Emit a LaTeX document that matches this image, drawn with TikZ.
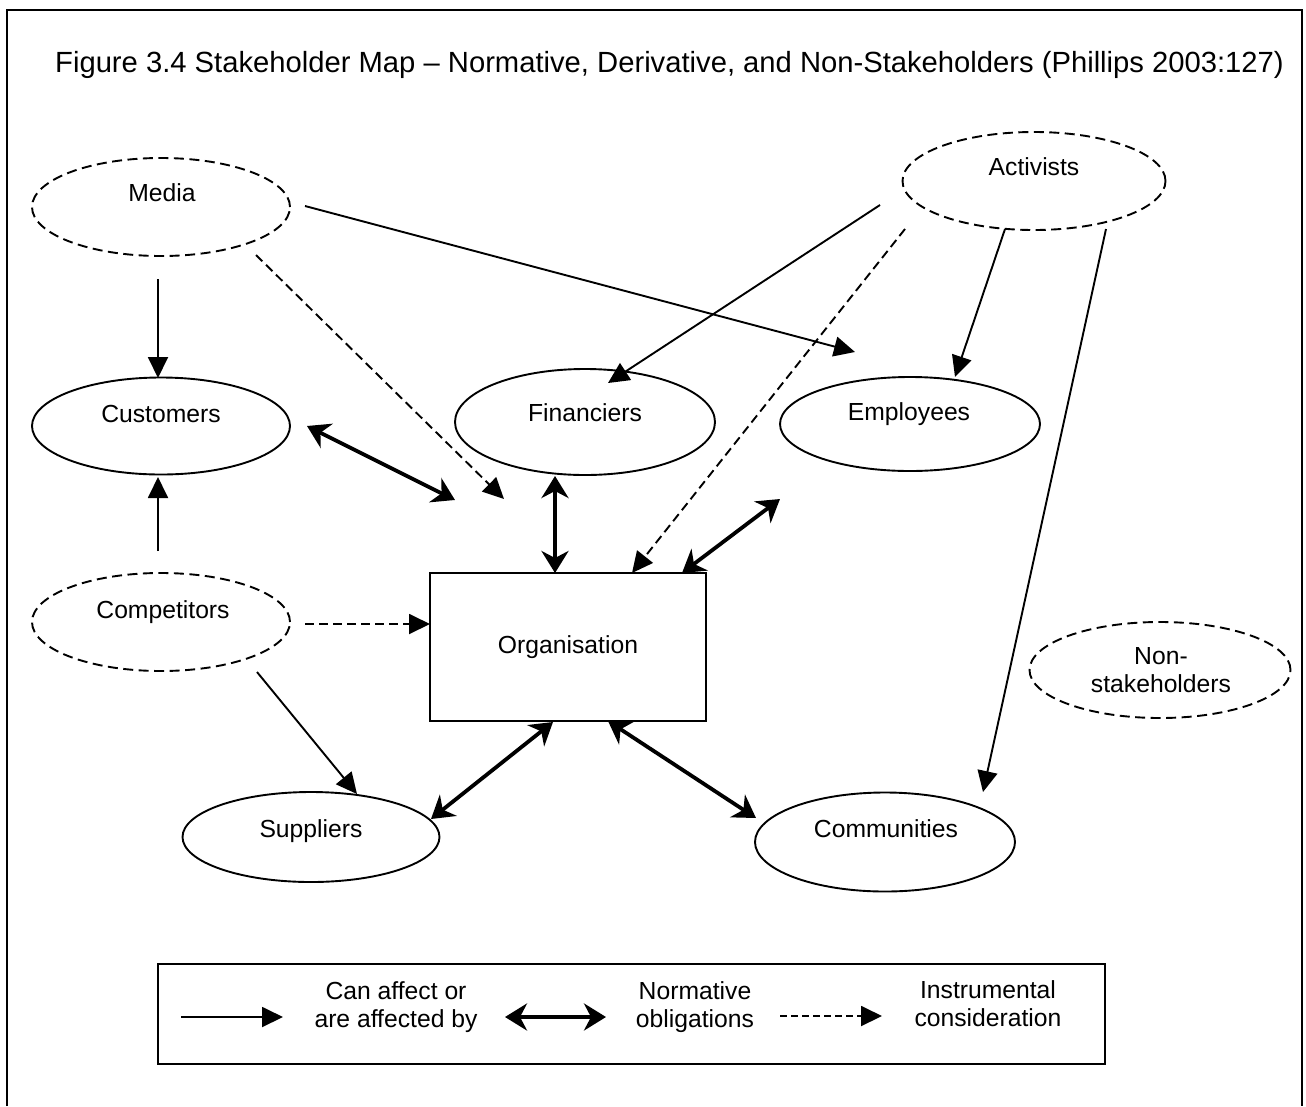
\documentclass[tikz,border=0pt]{standalone}
\usepackage{fontspec}
\setmainfont{Liberation Sans}
\usetikzlibrary{shapes.geometric,arrows.meta}

\begin{document}
\begin{tikzpicture}[x=1pt,y=-1pt,
  ell/.style={ellipse, draw, line width=1.9pt, inner sep=0pt,
    minimum width=258pt, minimum height=98pt},
  dashell/.style={ell, dash pattern=on 10pt off 5.5pt},
  lbl/.style={font=\fontsize{24.7}{28}\selectfont, anchor=base, inner sep=0pt},
  lbl2/.style={font=\fontsize{24.7}{28}\selectfont, align=center, inner sep=0pt},
  affects/.style={line width=1.9pt, -{Triangle[length=21pt,width=20pt]}},
  instr/.style={affects, dash pattern=on 9pt off 5pt},
  oblig/.style={line width=3.8pt,
    {Stealth[length=22pt,width=27pt,inset=7pt]}-{Stealth[length=22pt,width=27pt,inset=7pt]}}
]
\useasboundingbox (0,0) rectangle (1306,1106);

% outer frame (open at the bottom)
\draw[line width=2.8pt] (7,1106) -- (7,10) -- (1302,10) -- (1302,1106);

% title
\node[anchor=base west, inner sep=0pt, font=\fontsize{29.2}{34}\selectfont] (title)
  at (55,72) {Figure 3.4 Stakeholder Map – Normative, Derivative, and Non-Stakeholders (Phillips 2003:127)};

% stakeholder ellipses
\node[dashell] (media) at (161,207) {};
\node[lbl] (mediaT) at (162,201) {Media};
\node[ell, minimum height=97pt] (cust) at (161,426) {};
\node[lbl] (custT) at (161,422) {Customers};
\node[dashell] (comp) at (161,622) {};
\node[lbl] (compT) at (163,618) {Competitors};
\node[dashell, minimum width=263pt] (act) at (1034,181) {};
\node[lbl] (actT) at (1034,175) {Activists};
\node[ell, minimum width=260pt, minimum height=106pt] (fin) at (585,422) {};
\node[lbl] (finT) at (585,421) {Financiers};
\node[ell, minimum width=260pt, minimum height=94pt] (emp) at (910,424) {};
\node[lbl] (empT) at (909,420) {Employees};
\node[ell, minimum width=257pt, minimum height=90pt] (sup) at (311,837) {};
\node[lbl] (supT) at (311,837) {Suppliers};
\node[ell, minimum width=260pt, minimum height=99pt] (com) at (885,842) {};
\node[lbl] (comT) at (886,837) {Communities};
\node[dashell, minimum width=261pt, minimum height=96pt] (non) at (1160,670) {};
\node[lbl2] (nonT) at (1161,670) {Non-\\stakeholders};

% the organisation
\node[draw, line width=1.9pt, minimum width=276pt, minimum height=148pt, inner sep=0pt,
  font=\fontsize{24.7}{28}\selectfont] (org) at (568,647) {Organisation};

% connector end points
\coordinate (mediaA) at (305,206);  \coordinate (empM) at (855,352);
\coordinate (mediaB) at (256,255);  \coordinate (orgM) at (504,499);
\coordinate (mediaC) at (158,279);  \coordinate (custM) at (158,378);
\coordinate (compA) at (158,551);   \coordinate (custC) at (158,477);
\coordinate (custR) at (307,426);   \coordinate (orgCu) at (455,500);
\coordinate (finB) at (555,476);    \coordinate (orgF) at (555,573);
\coordinate (actA) at (880,205);    \coordinate (finA) at (608,383);
\coordinate (actB) at (905,229);    \coordinate (orgA) at (632,573);
\coordinate (actC) at (1005,229);   \coordinate (empA) at (955,377);
\coordinate (actD) at (1106,229);   \coordinate (comA) at (983,792);
\coordinate (orgE) at (682,573);    \coordinate (empO) at (780,499);
\coordinate (compB) at (305,624);   \coordinate (orgC) at (430,624);
\coordinate (compC) at (257,672);   \coordinate (supC) at (357,794);
\coordinate (orgS) at (553,722);    \coordinate (supO) at (431,819);
\coordinate (orgCm) at (608,721);   \coordinate (comO) at (756,818);

% connectors
\draw[affects] (mediaA) -- (empM);
\draw[instr]   (mediaB) -- (orgM);
\draw[affects] (mediaC) -- (custM);
\draw[affects] (compA) -- (custC);
\draw[oblig]   (custR) -- (orgCu);
\draw[oblig]   (finB) -- (orgF);
\draw[affects] (actA) -- (finA);
\draw[instr]   (actB) -- (orgA);
\draw[affects] (actC) -- (empA);
\draw[affects] (actD) -- (comA);
\draw[oblig]   (orgE) -- (empO);
\draw[instr]   (compB) -- (orgC);
\draw[affects] (compC) -- (supC);
\draw[oblig]   (orgS) -- (supO);
\draw[oblig]   (orgCm) -- (comO);

% legend
\node[draw, line width=2.1pt, minimum width=947pt, minimum height=100pt, inner sep=0pt,
  anchor=north west] (legend) at (157,963) {};
\coordinate (k1a) at (181,1017); \coordinate (k1b) at (283,1017);
\coordinate (k2a) at (505,1017); \coordinate (k2b) at (606,1017);
\coordinate (k3a) at (780,1016); \coordinate (k3b) at (882,1016);
\draw[affects] (k1a) -- (k1b);
\draw[oblig]   (k2a) -- (k2b);
\draw[line width=1.9pt, dash pattern=on 7pt off 4pt, -{Triangle[length=21pt,width=20pt]}] (k3a) -- (k3b);
\node[lbl2] (k1T) at (396,1007) {Can affect or\\are affected by};
\node[lbl2] (k2T) at (695,1007) {Normative\\obligations};
\node[lbl2] (k3T) at (988,1004) {Instrumental\\consideration};
\end{tikzpicture}
\end{document}
